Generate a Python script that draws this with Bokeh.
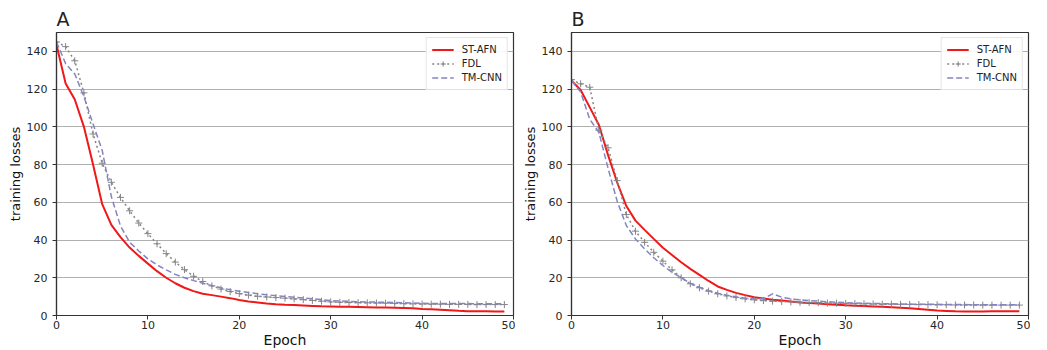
from bokeh.plotting import figure
from bokeh.layouts import row
from bokeh.models import Range1d, FixedTicker, Legend, LegendItem
from bokeh.embed import file_html
from bokeh.resources import INLINE

epochs = list(range(50))

a_st_afn = [143.5, 123, 114.5, 100, 80, 59, 48, 41.5, 36, 31.6,
            27.5, 23.5, 20, 17.1, 14.7, 12.9, 11.5, 10.8, 10, 9.2,
            8.2, 7.4, 6.9, 6.4, 6.0, 5.7, 5.5, 5.3, 5.1, 4.9,
            4.8, 4.7, 4.6, 4.5, 4.4, 4.3, 4.2, 4.1, 4.0, 3.8,
            3.5, 3.3, 3.1, 2.8, 2.5, 2.3, 2.2, 2.2, 2.1, 2.1]
a_fdl = [145, 142.5, 135, 118, 96.2, 80.7, 70.6, 62.6, 55.5, 49,
         43.4, 38, 32.8, 28.3, 24.3, 20.8, 18, 15.7, 14, 12.7,
         11.6, 10.8, 10.2, 9.8, 9.5, 9.2, 8.8, 8.4, 8.0, 7.6,
         7.2, 7.0, 6.9, 6.8, 6.7, 6.6, 6.5, 6.4, 6.3, 6.2,
         6.1, 6.0, 6.0, 5.9, 5.9, 5.9, 5.8, 5.8, 5.8, 5.8]
a_tm_cnn = [145, 133.5, 128, 116, 101.5, 87.5, 63, 47.5, 38.8, 34.2,
            30, 26.8, 24.2, 21.8, 20, 18.5, 17.1, 15.9, 14.7, 13.6,
            12.9, 12.2, 11.5, 11, 10.5, 10.1, 9.7, 9.3, 8.9, 8.4,
            7.9, 7.7, 7.5, 7.3, 7.2, 7.1, 7.0, 6.9, 6.8, 6.6,
            6.5, 6.4, 6.4, 6.3, 6.3, 6.3, 6.2, 6.2, 6.2, 6.2]

b_st_afn = [124.5, 119.5, 110.3, 101, 85, 70.5, 58, 50.3, 45.4, 40.6,
            35.9, 32.1, 28.2, 24.7, 21.5, 18.3, 15.4, 13.6, 12, 10.8,
            9.7, 9.0, 8.3, 7.9, 7.4, 6.9, 6.6, 6.3, 6.0, 5.7,
            5.4, 5.2, 5.0, 4.8, 4.6, 4.4, 4.1, 3.8, 3.4, 3.0,
            2.6, 2.4, 2.2, 2.1, 2.1, 2.1, 2.2, 2.2, 2.3, 2.3]
b_fdl = [125, 122.8, 121, 98.2, 88.9, 71.5, 53.5, 44.7, 38.8, 33.5,
         28.8, 24.2, 20, 16.8, 14.7, 12.9, 11.5, 10.4, 9.5, 8.8,
         8.3, 7.9, 7.6, 7.4, 7.2, 7.0, 6.9, 6.8, 6.6, 6.5,
         6.4, 6.3, 6.2, 6.1, 6.0, 6.0, 5.9, 5.9, 5.8, 5.8,
         5.7, 5.7, 5.6, 5.6, 5.6, 5.5, 5.5, 5.5, 5.5, 5.5]
b_tm_cnn = [124.5, 118.5, 104, 97, 78, 60.5, 47.7, 40.6, 35.3, 30.6,
            26.5, 22.9, 20, 17.1, 15, 13.2, 11.8, 10.8, 9.9, 9.2,
            8.8, 8.9, 11.5, 9.7, 8.8, 8.3, 7.9, 7.6, 7.3, 7.0,
            6.8, 6.6, 6.5, 6.4, 6.3, 6.2, 6.1, 6.0, 6.0, 5.9,
            5.9, 5.8, 5.8, 5.8, 5.7, 5.7, 5.7, 5.7, 5.7, 5.7]

x_ticks = [0, 10, 20, 30, 40, 50]
y_ticks = [0, 20, 40, 60, 80, 100, 120, 140]
series_names = ["ST-AFN", "FDL", "TM-CNN"]

FONT = "DejaVu Sans"
RED = "#f01818"
GRAY = "#858585"
BLUE = "#8484c4"
AXC = "#333333"


def make_panel(title, st, fdl, tm):
    p = figure(width=515, height=350, output_backend="svg", toolbar_location=None,
               x_range=Range1d(0, 50), y_range=Range1d(0, 150),
               min_border_left=56, min_border_right=2, min_border_top=32,
               min_border_bottom=35, title=title)
    p.title.text_font = FONT
    p.title.text_font_size = "19px"
    p.title.text_font_style = "normal"
    p.title.text_color = "#222222"
    p.title.align = "left"
    p.title.offset = 0
    p.title.standoff = 5

    r1 = p.line(epochs, st, line_color=RED, line_width=2)
    r2 = p.line(epochs, fdl, line_color=GRAY, line_width=1.5, line_dash="2 3")
    r2m = p.scatter(epochs, fdl, marker="cross", size=7, line_color=GRAY, line_width=1)
    r3 = p.line(epochs, tm, line_color=BLUE, line_width=1.5, line_dash="6 3")

    legend = Legend(items=[LegendItem(label=series_names[0], renderers=[r1]),
                           LegendItem(label=series_names[1], renderers=[r2, r2m]),
                           LegendItem(label=series_names[2], renderers=[r3])],
                    location="top_right")
    legend.label_text_font = FONT
    legend.label_text_font_size = "10px"
    legend.label_text_color = "#222222"
    legend.glyph_width = 22
    legend.glyph_height = 13
    legend.label_height = 13
    legend.label_standoff = 8
    legend.spacing = 1
    legend.padding = 5
    legend.margin = 5
    legend.border_line_color = "#cccccc"
    legend.border_line_width = 1
    legend.background_fill_alpha = 0.9
    p.add_layout(legend)

    p.xaxis.ticker = FixedTicker(ticks=x_ticks)
    p.yaxis.ticker = FixedTicker(ticks=y_ticks)
    for ax in (p.xaxis, p.yaxis):
        ax.minor_tick_line_color = None
        ax.major_tick_in = 0
        ax.major_tick_out = 4
        ax.major_tick_line_color = AXC
        ax.axis_line_color = AXC
        ax.axis_line_width = 1.2
        ax.major_label_text_font = FONT
        ax.major_label_text_font_size = "11px"
        ax.major_label_text_color = "#262626"
        ax.major_label_standoff = 1
        ax.axis_label_text_font = FONT
        ax.axis_label_text_font_style = "normal"
        ax.axis_label_text_color = "#111111"
        ax.axis_label_standoff = 0
    p.yaxis.major_label_standoff = 5
    p.yaxis.axis_label_standoff = 1
    p.xaxis.axis_label = "Epoch"
    p.xaxis.axis_label_text_font_size = "14px"
    p.yaxis.axis_label = "training losses"
    p.yaxis.axis_label_text_font_size = "13px"

    p.xgrid.visible = False
    p.ygrid.grid_line_color = "#b0b0b0"
    p.ygrid.grid_line_width = 1
    p.outline_line_color = AXC
    p.outline_line_width = 1.2
    p.background_fill_color = "white"
    return p


pa = make_panel("A", a_st_afn, a_fdl, a_tm_cnn)
pb = make_panel("B", b_st_afn, b_fdl, b_tm_cnn)

layout = row(pa, pb)
open("out.html", "w").write(file_html(layout, INLINE))
